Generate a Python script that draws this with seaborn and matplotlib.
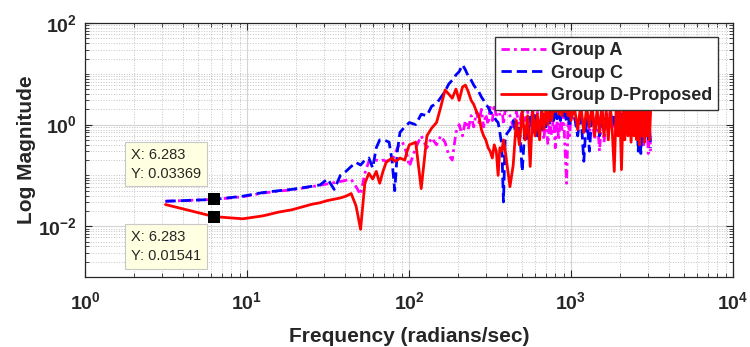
""" Log magnitude vs frequency for three groups """
import matplotlib
matplotlib.use("Agg")
from matplotlib import pyplot as plt
import matplotlib.ticker as mticker
import numpy as np
import seaborn as sns

# shared frequency grid (rad/s)
freq = [
    3.14, 6.283, 9.42, 12.57, 15.71, 18.85, 21.99, 25.13, 28.27, 31.42,
    34.56, 37.70, 40.84, 43.98, 47.12, 50.27, 53.41, 56.55, 59.69, 62.83,
    65.97, 69.12, 72.26, 75.40, 78.54, 81.68, 84.82, 87.96, 91.11, 94.25,
    97.39, 100.53,
    110, 119, 129, 138, 148, 157, 167, 176, 185, 195,
    204, 214, 223, 232, 242, 251, 261, 270, 280, 289,
    298, 308, 317, 327, 336, 346, 355, 364, 374, 383, 393,
    420, 440, 460, 480, 500, 520, 540, 560, 580, 600,
    620, 640, 660, 680, 700, 720, 740, 760, 780, 800,
    820, 840, 860, 880, 900, 920, 940, 960, 980, 1000,
    1050, 1100, 1150, 1200, 1250, 1300, 1350, 1400, 1450, 1500,
    1550, 1600, 1650, 1700, 1750, 1800, 1850, 1900, 1950, 2000,
    2050, 2100, 2150, 2200, 2250, 2300, 2350, 2400, 2450, 2500,
    2550, 2600, 2650, 2700, 2750, 2800, 2850, 2900, 2950, 3000,
    3050, 3100,
]

group_a = [
    .031, .0337, .038, .045, .049, .052, .056, .060, .064, .068,
    .072, .076, .080, .083, .060, .042, .11, .19, .19, .20,
    .19, .20, .19, .20, .20, .25, .35, .42, .45, .35,
    .25, .15,
    .35, .6, .35, .55, .4, .6, .45, .25, .2, .7,
    1.0, .6, 1.2, .8, 1.5, .9, 1.8, 1.1, 2.0, .9,
    1.6, 1.0, 2.2, 1.2, 2.5, 1.4, 3.8, 1.5, 2.6, 1.0, 2.0,
    1.5, .9, 1.8, 1.0, 2.0, 1.2, 1.8, .9, 2.0, 1.1,
    1.8, .7, 1.5, .5, 1.4, .4, 1.2, .6, 1.5, .35,
    1.2, .5, 1.4, .8, 1.6, .3, .07, 1.2, .6, 1.5,
    1.4, .8, 1.6, .9, 1.5, .7, 1.4, .5, 1.6, .3,
    1.5, .45, 1.3, .8, 1.6, .9, 1.4, .7, 1.5, .9,
    1.3, .6, 1.5, .8, 1.4, .7, 1.6, .9, 1.3, .6,
    1.5, .8, 1.4, .5, 1.3, .35, 1.5, .6, 1.2, .27,
    1.1, .3,
]

group_c = [
    .031, .0337, .039, .046, .050, .053, .057, .061, .065, .085,
    .053, .10, .12, .15, .18, .16, .20, .22, .14, .35,
    .50, .50, .48, .45, .20, .05, .30, .70, .80, .90,
    1.0, 1.1,
    1.0, 1.6, 1.5, 2.3, 2.6, 3.4, 4.5, 6.3, 7.5, 9.5,
    11, 15, 12, 9, 7.5, 6, 5, 4.4, 3.5, 3,
    2.5, 2.2, 1.8, 1.6, 1.4, 1.2, 1.1, .7, .4, .03, .6,
    .8, 1.2, .6, 1.0, .12, .9, .5, 1.4, .7, 1.5,
    .6, 1.3, .8, 1.6, .9, 1.5, 1.0, 1.8, 1.2, 2.0,
    1.3, 1.7, 1.2, 2.0, 1.4, 1.8, 1.1, 2.0, .9, 1.6,
    1.5, .6, 1.8, .19, 1.5, .3, 1.8, .8, 1.5, .6,
    1.9, .9, 1.6, .8, 1.8, 1.0, 1.5, .9, 1.8, 1.0,
    1.6, .8, 1.7, 1.0, 1.5, .9, 1.8, 1.0, 1.5, .8,
    1.6, .3, 1.4, .27, 1.5, .8, 1.6, .7, 1.4, .45,
    1.2, .35,
]

group_d = [
    .0267, .01541, .0140, .0160, .0190, .0210, .0240, .0270, .0290, .0320,
    .0340, .0360, .0390, .0440, .025, .0087, .07, .11, .085, .12,
    .07, .12, .18, .20, .22, .19, .20, .22, .21, .20,
    .30, .40,
    .45, .055, .6, .85, 1.1, 2.2, 4.8, 4.0, 3.3, 5.0,
    3.0, 5.5, 6.0, 4.5, 3.0, 2.5, 1.8, 1.5, .8, .6,
    .5, .35, .3, .22, .4, .3, .1, .35, .3, .5, .3,
    .06, .16, 1.2, .4, 1.8, .5, 1.5, .15, 2.0, .6,
    1.6, .5, 2.2, .8, 2.0, 1.0, 2.5, 1.2, 2.5, 1.8,
    2.8, 1.6, 2.5, 1.5, 2.8, 1.8, 2.5, 1.5, 2.8, 1.2,
    2.2, .8, 2.5, .7, 2.2, .9, 2.5, .6, 2.0, .7,
    2.4, .6, 2.0, .5, 2.3, .7, .12, 2.0, .6, 2.4,
    .13, 2.0, .5, 2.2, .6, 2.5, .45, 2.0, .6, 2.3,
    .5, 2.0, .4, 2.2, .6, 2.0, .45, 2.3, .6, 2.0,
    .5, 1.8,
]

series_names = ["Group A", "Group C", "Group D-Proposed"]

# data tips
tip_x = [6.283, 6.283]
tip_y = [0.03369, 0.01541]

x_ticks = [1, 10, 100, 1000, 10000]
x_tick_labels = [r"$\mathbf{10^{0}}$", r"$\mathbf{10^{1}}$", r"$\mathbf{10^{2}}$",
                 r"$\mathbf{10^{3}}$", r"$\mathbf{10^{4}}$"]
y_ticks = [0.01, 1, 100]
y_tick_labels = [r"$\mathbf{10^{-2}}$", r"$\mathbf{10^{0}}$", r"$\mathbf{10^{2}}$"]


sns.set_style("ticks")
plt.rcParams["font.family"] = ["Liberation Sans", "DejaVu Sans"]
plt.rcParams["mathtext.fontset"] = "custom"
plt.rcParams["mathtext.rm"] = "Liberation Sans"
plt.rcParams["mathtext.bf"] = "Liberation Sans:bold"

fig = plt.figure(figsize=(7.5, 3.47), dpi=100)
ax = fig.add_axes([0.1133, 0.2017, 0.864, 0.732])

styles = [
    ("#ff00ff", (0, (3, 1.5, 1, 1.5))),
    ("#0000ff", (0, (3.7, 1.8))),
    ("#ff0000", "-"),
]
for name, vals, (color, ls) in zip(series_names, [group_a, group_c, group_d], styles):
    sns.lineplot(x=np.array(freq), y=np.array(vals), ax=ax, color=color,
                 linewidth=2, linestyle=ls, label=name, estimator=None, sort=False)

sns.scatterplot(x=tip_x, y=tip_y, ax=ax, marker="s", color="k", s=70,
                linewidth=0, zorder=6, legend=False)

ax.set_xscale("log")
ax.set_yscale("log")
ax.set_xlim(1, 1e4)
ax.set_ylim(1e-3, 1e2)
ax.set_xticks(x_ticks, labels=x_tick_labels)
ax.set_yticks(y_ticks, labels=y_tick_labels)
ax.xaxis.set_minor_locator(mticker.LogLocator(base=10, subs=np.arange(1, 10), numticks=20))
ax.yaxis.set_minor_locator(mticker.LogLocator(base=10, subs=np.arange(1, 10), numticks=20))
ax.xaxis.set_minor_formatter(mticker.NullFormatter())
ax.yaxis.set_minor_formatter(mticker.NullFormatter())

ax.grid(which="major", color="#d4d4d4", linestyle="-", lw=0.8)
ax.grid(which="minor", color="#c4c4c4", linestyle=":", lw=0.7)
ax.set_axisbelow(True)

for sp in ax.spines.values():
    sp.set_color("#262626")
    sp.set_linewidth(0.9)
ax.tick_params(which="both", direction="in", top=True, right=True, color="#262626")
ax.tick_params(which="major", length=5, labelsize=14)
ax.tick_params(which="minor", length=3)
ax.tick_params(axis="x", which="major", pad=10)
ax.tick_params(axis="y", which="major", pad=6)

ax.set_xlabel("Frequency (radians/sec)", fontsize=15, fontweight="bold")
ax.set_ylabel("Log Magnitude", fontsize=15, fontweight="bold")
ax.xaxis.set_label_coords(0.5, -0.197)
ax.yaxis.set_label_coords(-0.075, 0.5)

for tx, ty, off, va in zip(tip_x, tip_y, [(-9.5, 13.5), (-9.5, -9.6)], ["bottom", "top"]):
    ax.annotate(f"X: {tx}\nY: {ty}", xy=(tx, ty), xytext=off, textcoords="offset points",
                ha="right", va=va, multialignment="left", fontsize=10.5,
                linespacing=1.45, zorder=7,
                bbox=dict(boxstyle="square,pad=0.4", fc="#ffffe1", ec="#c8c8c8", lw=0.8))

ax.legend(loc="upper right", bbox_to_anchor=(0.977, 0.945), borderaxespad=0,
          prop={"weight": "bold", "size": 13}, frameon=True, fancybox=False,
          edgecolor="#333333", framealpha=1, borderpad=0.3, labelspacing=0.3,
          handlelength=2.5, handletextpad=0.3)

fig.savefig("out.png", dpi=100)
